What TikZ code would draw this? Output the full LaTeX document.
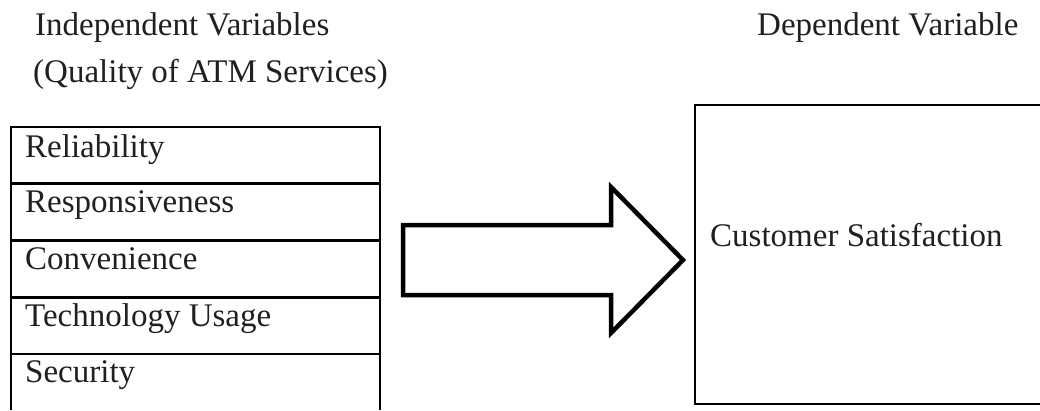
\documentclass[tikz,border=0pt]{standalone}
\usepackage{fontspec}
\setmainfont{Liberation Serif}
\definecolor{txt}{HTML}{231F20}
\begin{document}
\begin{tikzpicture}[x=1pt,y=-1pt,
  lbl/.style={anchor=base west,inner sep=0pt,text=txt,font=\fontsize{33}{40}\selectfont},
  boxline/.style={line width=2.8pt,black},
  bigarrow/.style={line width=4.5pt,black,line join=miter}]
\useasboundingbox (0,0) rectangle (1040,410);
% headings
\node[lbl] (indep) at (35,35) {Independent Variables};
\node[lbl] (qual) at (33,82) {(Quality of ATM Services)};
\node[lbl] (dep) at (757,35) {Dependent Variable};
% left box (open at the bottom)
\draw[boxline] (11,410) -- (11,127) -- (380,127) -- (380,410);
\draw[boxline] (11,183.3) -- (380,183.3);
\draw[boxline] (11,240.7) -- (380,240.7);
\draw[boxline] (11,297.3) -- (380,297.3);
\draw[boxline] (11,354) -- (380,354);
\node[lbl] (rel) at (25,157) {Reliability};
\node[lbl] (resp) at (25,212) {Responsiveness};
\node[lbl] (conv) at (25,269) {Convenience};
\node[lbl] (tech) at (25,326) {Technology Usage};
\node[lbl] (sec) at (25,382) {Security};
% block arrow
\draw[bigarrow] (403,225) -- (611,225) -- (611,187) -- (683,260) -- (611,333) -- (611,295) -- (403,295) -- cycle;
% right box
\draw[boxline] (1040,105) -- (695,105) -- (695,404) -- (1040,404);
\node[lbl] (cs) at (710,246) {Customer Satisfaction};
\end{tikzpicture}
\end{document}
